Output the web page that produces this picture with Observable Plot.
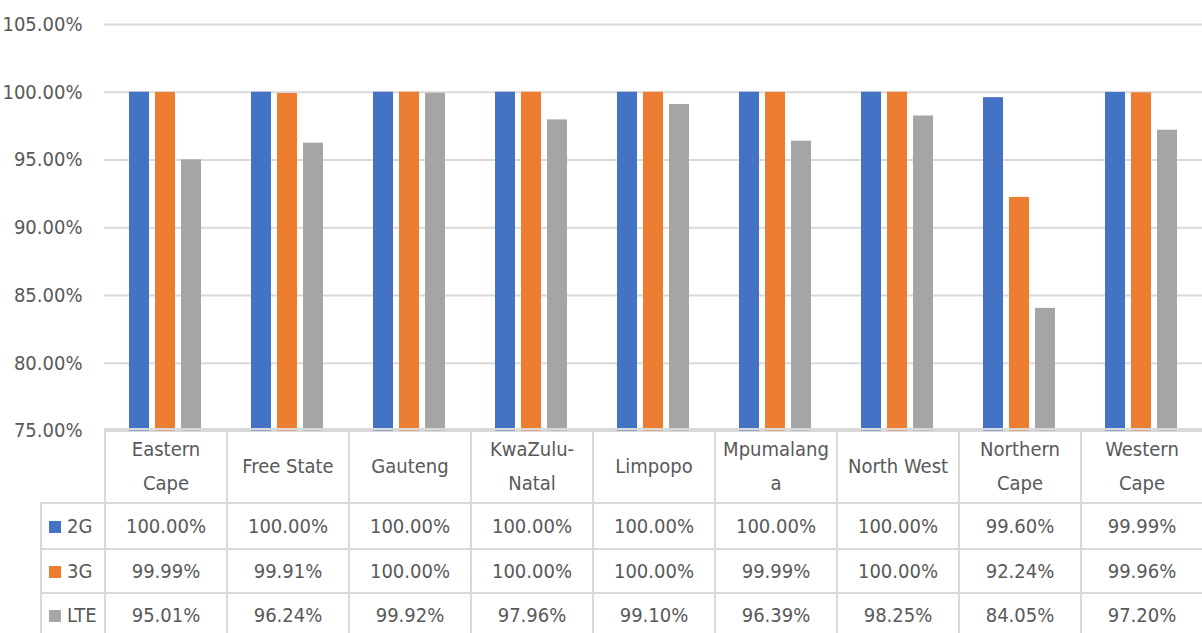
<!DOCTYPE html>
<html>
<head>
<meta charset="utf-8">
<script src="https://cdn.jsdelivr.net/npm/d3@7"></script>
<script src="https://cdn.jsdelivr.net/npm/@observablehq/plot@0.6"></script>
<style>
  body { margin: 0; background: #fff; }
  #wrap {
    position: relative; width: 1202px; height: 633px; overflow: hidden;
    font-family: "Liberation Sans Narrow", "DejaVu Sans Condensed", "Arial Narrow", sans-serif;
    color: #595959;
  }
  #wrap svg { position: absolute; left: 0; top: 0; overflow: visible; }
  #table {
    position: absolute; left: 40px; top: 428px;
    border-collapse: collapse; table-layout: fixed; font-size: 20px;
  }
  #table td { border: 2px solid #d9d9d9; text-align: center; padding: 0; white-space: pre-line; }
  #table td.corner { border-top: none; border-left: none; }
  #table td.head { line-height: 34px; }
  #table td.key { text-align: left; padding-left: 7px; }
  #table .swatch { display: inline-block; width: 12px; height: 12px; margin-right: 6px; }
</style>
</head>
<body>
<div id="wrap"></div>
<script>
// Province categories and the labels shown in the table header
const provinces = ["Eastern Cape", "Free State", "Gauteng", "KwaZulu-Natal", "Limpopo",
                   "Mpumalanga", "North West", "Northern Cape", "Western Cape"];
const headerLabels = ["Eastern\nCape", "Free State", "Gauteng", "KwaZulu-\nNatal", "Limpopo",
                      "Mpumalang\na", "North West", "Northern\nCape", "Western\nCape"];

// Network technologies and their colours
const series = ["2G", "3G", "LTE"];
const colors = ["#4472c4", "#ed7d31", "#a5a5a5"];

// Population coverage (%) per province
const cov2G  = [100.00, 100.00, 100.00, 100.00, 100.00, 100.00, 100.00, 99.60, 99.99];
const cov3G  = [99.99, 99.91, 100.00, 100.00, 100.00, 99.99, 100.00, 92.24, 99.96];
const covLTE = [95.01, 96.24, 99.92, 97.96, 99.10, 96.39, 98.25, 84.05, 97.20];

// Y axis ticks
const yTicks = [75, 80, 85, 90, 95, 100, 105];

const valuesBySeries = [cov2G, cov3G, covLTE];
const rows = [];
series.forEach((s, i) => provinces.forEach((p, j) => rows.push({province: p, series: s, value: valuesBySeries[i][j]})));

const fmt = v => v.toFixed(2) + "%";

const chart = Plot.plot({
  width: 1202,
  height: 450,
  marginLeft: 104,
  marginRight: 0,
  marginTop: 24,
  marginBottom: 19.5,
  style: {fontSize: "20px", fontFamily: "inherit", color: "#595959", background: "transparent", overflow: "visible"},
  fx: {domain: provinces, paddingInner: 0, paddingOuter: 0, axis: null, label: null},
  x: {domain: series, paddingInner: 0.22, paddingOuter: 0.87, axis: null, label: null},
  y: {domain: [75, 105], ticks: yTicks, tickFormat: fmt, label: null, tickSize: 0, tickPadding: 22},
  color: {domain: series, range: colors},
  marks: [
    Plot.gridY(yTicks, {stroke: "#d9d9d9", strokeOpacity: 1, strokeWidth: 2}),
    Plot.barY(rows, {fx: "province", x: "series", y1: 75, y2: "value", fill: "series"}),
    Plot.axisY({ticks: yTicks, tickFormat: fmt, tickSize: 0, tickPadding: 22, label: null})
  ]
});
document.getElementById("wrap").appendChild(chart);

// Data table under the plot
const table = document.createElement("table");
table.id = "table";
const colgroup = document.createElement("colgroup");
const c0 = document.createElement("col"); c0.style.width = "64px"; colgroup.appendChild(c0);
provinces.forEach(() => { const c = document.createElement("col"); c.style.width = "122px"; colgroup.appendChild(c); });
table.appendChild(colgroup);
table.style.width = (64 + 122 * provinces.length) + "px";

const head = document.createElement("tr");
head.style.height = "74px";
const corner = document.createElement("td"); corner.className = "corner"; head.appendChild(corner);
headerLabels.forEach(l => { const td = document.createElement("td"); td.className = "head"; td.textContent = l; head.appendChild(td); });
table.appendChild(head);

const rowHeights = [46, 44, 44];
series.forEach((s, i) => {
  const tr = document.createElement("tr");
  tr.style.height = rowHeights[i] + "px";
  const key = document.createElement("td"); key.className = "key";
  const sw = document.createElement("span"); sw.className = "swatch"; sw.style.background = colors[i];
  key.appendChild(sw); key.appendChild(document.createTextNode(s));
  tr.appendChild(key);
  valuesBySeries[i].forEach(v => { const td = document.createElement("td"); td.textContent = fmt(v); tr.appendChild(td); });
  table.appendChild(tr);
});
document.getElementById("wrap").appendChild(table);
</script>
</body>
</html>
